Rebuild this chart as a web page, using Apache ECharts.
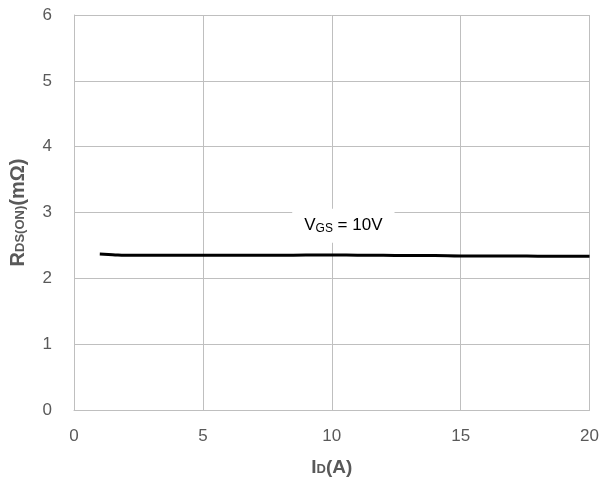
<!DOCTYPE html>
<html><head><meta charset="utf-8">
<script src="https://cdn.jsdelivr.net/npm/echarts@6/dist/echarts.min.js"></script>
<style>html,body{margin:0;padding:0;background:#fff}#c{width:602px;height:488px}</style>
</head><body><div id="c"></div>
<script>
const idValues = [1, 1.5, 2, 3, 4, 5, 6, 7, 8, 9, 10, 11, 12, 13, 14, 15, 16, 17, 18, 19, 20];
const rdsValues = [2.37, 2.36, 2.35, 2.35, 2.35, 2.35, 2.35, 2.35, 2.35, 2.355, 2.355, 2.352, 2.35, 2.345, 2.345, 2.34, 2.34, 2.34, 2.337, 2.335, 2.335];
const seriesLabel = 'V_GS = 10V';
const labelPos = [10.45, 2.8];

const chart = echarts.init(document.getElementById('c'));
const font = 'Liberation Sans, Arial, sans-serif';
chart.setOption({
  animation: false,
  grid: {left: 73, right: 10, top: 15, bottom: 78},
  xAxis: {
    type: 'value', min: 0, max: 20, interval: 5,
    axisLine: {show: true, lineStyle: {color: '#bfbfbf', width: 1}},
    axisTick: {show: false},
    splitLine: {show: true, lineStyle: {color: '#bfbfbf', width: 1}},
    axisLabel: {color: '#595959', fontSize: 17, fontFamily: font, margin: 18},
    name: '{b|I}{s|D}{b|(A)}', nameLocation: 'middle', nameGap: 48,
    nameTextStyle: {rich: {
      b: {fontSize: 19, fontWeight: 'bold', color: '#595959', fontFamily: font},
      s: {fontSize: 13, fontWeight: 'bold', color: '#595959', fontFamily: font, padding: [4, 0, 0, 0]}
    }}
  },
  yAxis: {
    type: 'value', min: 0, max: 6, interval: 1,
    axisLine: {show: true, lineStyle: {color: '#bfbfbf', width: 1}},
    axisTick: {show: false},
    splitLine: {show: true, lineStyle: {color: '#bfbfbf', width: 1}},
    axisLabel: {color: '#595959', fontSize: 17, fontFamily: font, margin: 22},
    name: '{b|R}{s|DS(ON)}{b|(mΩ)}', nameLocation: 'middle', nameGap: 46,
    nameTextStyle: {rich: {
      b: {fontSize: 20, fontWeight: 'bold', color: '#595959', fontFamily: font},
      s: {fontSize: 13, fontWeight: 'bold', color: '#595959', fontFamily: font, padding: [5, 0, 0, 0]}
    }}
  },
  series: [{
    type: 'line',
    name: seriesLabel,
    data: idValues.map((x, i) => [x, rdsValues[i]]),
    smooth: true, showSymbol: false,
    lineStyle: {color: '#000', width: 3},
    markPoint: {
      symbol: 'rect', symbolSize: 0,
      data: [{coord: labelPos}],
      label: {
        show: true, position: 'inside',
        formatter: '{t|V}{s|GS}{t| = 10V}',
        backgroundColor: '#fff',
        padding: [8, 12, 8, 12],
        rich: {
          t: {fontSize: 17, color: '#000', fontFamily: font},
          s: {fontSize: 12, color: '#000', fontFamily: font, padding: [6, 0, 0, 0]}
        }
      }
    }
  }]
});
</script></body></html>
